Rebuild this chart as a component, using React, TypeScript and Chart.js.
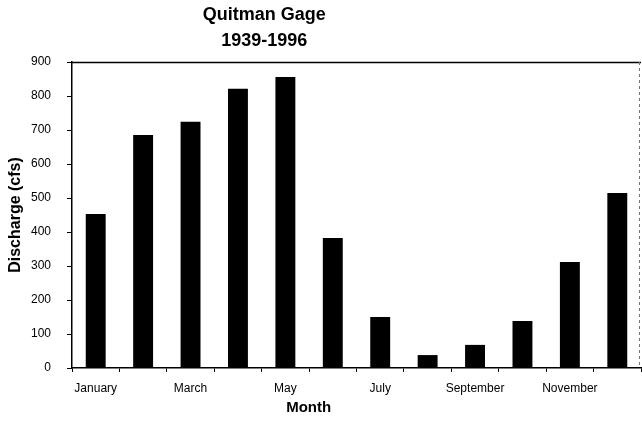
import React, { useEffect, useRef } from "react";
import { Chart, registerables } from "chart.js";

Chart.register(...registerables);

const months = [
  "January", "February", "March", "April", "May", "June",
  "July", "August", "September", "October", "November", "December",
];
const discharge = [453, 685, 724, 821, 856, 382, 150, 38, 68, 138, 312, 515];
const titleLines = ["Quitman Gage", "1939-1996"];
const yTicksMax = 900;
const yStep = 100;

const FONT = "'Liberation Sans', Arial, sans-serif";

const framePlugin = {
  id: "frame",
  afterDraw(chart: any) {
    const { ctx, chartArea } = chart;
    const { left, right, top, bottom } = chartArea;
    ctx.save();
    // top border
    ctx.strokeStyle = "#000";
    ctx.lineWidth = 1.5;
    ctx.beginPath();
    ctx.moveTo(left, top + 0.5);
    ctx.lineTo(right, top + 0.5);
    ctx.stroke();
    // right border (dashed, grey)
    ctx.strokeStyle = "#777";
    ctx.lineWidth = 1;
    ctx.setLineDash([3, 3]);
    ctx.beginPath();
    ctx.moveTo(right - 1.5, top);
    ctx.lineTo(right - 1.5, bottom);
    ctx.stroke();
    ctx.setLineDash([]);
    // title
    ctx.fillStyle = "#000";
    ctx.textAlign = "center";
    ctx.textBaseline = "middle";
    ctx.font = `bold 18px ${FONT}`;
    const cx = left + (right - left) * 0.338;
    ctx.fillText(titleLines[0], cx, 15);
    ctx.fillText(titleLines[1], cx, 41);
    // x axis title
    ctx.font = `bold 15px ${FONT}`;
    ctx.fillText("Month", left + (right - left) * 0.416, 408);
    ctx.restore();
  },
};

export default function App() {
  const ref = useRef<HTMLCanvasElement | null>(null);
  useEffect(() => {
    if (!ref.current) return;
    const chart = new Chart(ref.current, {
      type: "bar",
      data: {
        labels: months,
        datasets: [
          {
            data: discharge,
            backgroundColor: "#000",
            borderWidth: 0,
            barPercentage: 0.42,
            categoryPercentage: 1,
          },
        ],
      },
      options: {
        animation: false,
        responsive: false,
        maintainAspectRatio: false,
        layout: { padding: { top: 62, right: 1, left: 0, bottom: 0 } },
        plugins: {
          legend: { display: false },
          title: { display: false },
          tooltip: { enabled: false },
        },
        scales: {
          x: {
            offset: true,
            grid: {
              offset: true,
              drawOnChartArea: false,
              drawTicks: true,
              tickLength: 4,
              color: "#000",
            },
            border: { color: "#000", width: 1.5 },
            ticks: {
              autoSkip: false,
              maxRotation: 0,
              minRotation: 0,
              padding: 9,
              color: "#000",
              font: { family: FONT, size: 12 },
              callback: (_v: any, i: number) => (i % 2 === 0 ? months[i] : ""),
            },
            afterFit: (s: any) => {
              s.height = 54;
            },
          },
          y: {
            min: 0,
            max: yTicksMax,
            grid: {
              drawOnChartArea: false,
              drawTicks: true,
              tickLength: 5,
              color: "#000",
            },
            border: { color: "#000", width: 1.5 },
            ticks: {
              stepSize: yStep,
              padding: 16,
              color: "#000",
              font: { family: FONT, size: 12 },
            },
            title: {
              display: true,
              text: "Discharge (cfs)",
              color: "#000",
              font: { family: FONT, size: 16, weight: "bold" },
              padding: { top: 6, bottom: 0 },
            },
            afterFit: (s: any) => {
              s.width = 72;
            },
          },
        },
      },
      plugins: [framePlugin],
    });
    return () => chart.destroy();
  }, []);
  return (
    <div style={{ position: "fixed", left: 0, top: 0, width: 642, height: 422, background: "#fff" }}>
      <canvas ref={ref} width={642} height={422} style={{ display: "block" }} />
    </div>
  );
}
